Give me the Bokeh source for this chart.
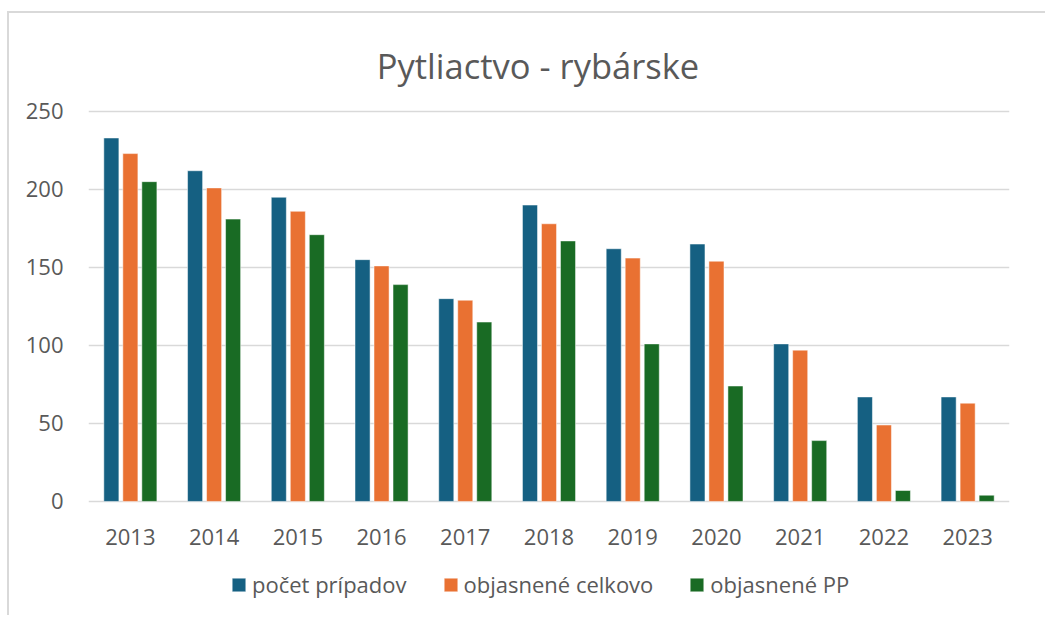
from bokeh.plotting import figure
from bokeh.models import FactorRange, ColumnDataSource, Legend, LegendItem, FixedTicker, Label
from bokeh.core.properties import value
from bokeh.transform import dodge
from bokeh.embed import file_html
from bokeh.resources import INLINE

years = ["2013", "2014", "2015", "2016", "2017", "2018", "2019", "2020", "2021", "2022", "2023"]
pocet_pripadov = [233, 212, 195, 155, 130, 190, 162, 165, 101, 67, 67]
objasnene_celkovo = [223, 201, 186, 151, 129, 178, 156, 154, 97, 49, 63]
objasnene_pp = [205, 181, 171, 139, 115, 167, 101, 74, 39, 7, 4]
series_names = ["počet prípadov", "objasnené celkovo", "objasnené PP"]
colors = ["#156082", "#E97132", "#196B24"]
y_ticks = [0, 50, 100, 150, 200, 250]
title_text = "Pytliactvo - rybárske"

src = ColumnDataSource(data=dict(years=years, a=pocet_pripadov, b=objasnene_celkovo, c=objasnene_pp))

TXT = "#595959"
GRID = "#d9d9d9"
FONT = "Open Sans"

# frame spans the whole canvas height; y range extended so that 0..250 sits where the reference axis is
p = figure(x_range=FactorRange(*years, range_padding=0), y_range=(-74.4, 312.8),
           width=1038, height=604, output_backend="svg", toolbar_location=None,
           x_axis_location=None,
           min_border_left=79, min_border_right=38, min_border_top=0, min_border_bottom=0)
p.styles = {"margin-top": "11px", "margin-left": "7px",
            "border-left": "2px solid #d9d9d9", "border-top": "2px solid #d9d9d9"}
p.outline_line_color = None
p.background_fill_color = "white"
p.border_fill_color = "white"

offs = [-0.227, 0.0, 0.227]
renderers = []
for col, off, c in zip(["a", "b", "c"], offs, colors):
    r = p.vbar(x=dodge("years", off, range=p.x_range), top=col, width=0.18, source=src,
               fill_color=c, line_color="white", line_width=0.5)
    renderers.append(r)

p.xgrid.grid_line_color = None
p.ygrid.ticker = FixedTicker(ticks=y_ticks)
p.ygrid.grid_line_color = GRID
p.ygrid.grid_line_width = 1.5
p.yaxis.ticker = FixedTicker(ticks=y_ticks)
p.yaxis.axis_line_color = None
p.yaxis.major_tick_line_color = None
p.yaxis.minor_tick_line_color = None
p.yaxis.major_label_standoff = 19
p.yaxis.major_label_text_font = FONT
p.yaxis.major_label_text_font_size = "22px"
p.yaxis.major_label_text_color = TXT

# category labels under the baseline
p.text(x="years", y=0, text="years", source=src, y_offset=36,
       text_align="center", text_baseline="alphabetic",
       text_font=value(FONT), text_font_size="22px", text_color=TXT)

title = Label(x=449.5, y=552, x_units="screen", y_units="screen", text=title_text,
              text_font=FONT, text_font_size="34.5px", text_color=TXT,
              text_align="center", text_baseline="alphabetic")
p.add_layout(title)

legend = Legend(items=[LegendItem(label=n, renderers=[r]) for n, r in zip(series_names, renderers)],
                orientation="horizontal", location=(142, 18),
                glyph_width=17, glyph_height=17, label_standoff=5, spacing=35,
                padding=0, margin=0, border_line_color=None, background_fill_alpha=0,
                label_text_font=FONT, label_text_font_size="22px", label_text_color=TXT)
p.add_layout(legend, "center")

open("out.html", "w").write(file_html(p, INLINE))
